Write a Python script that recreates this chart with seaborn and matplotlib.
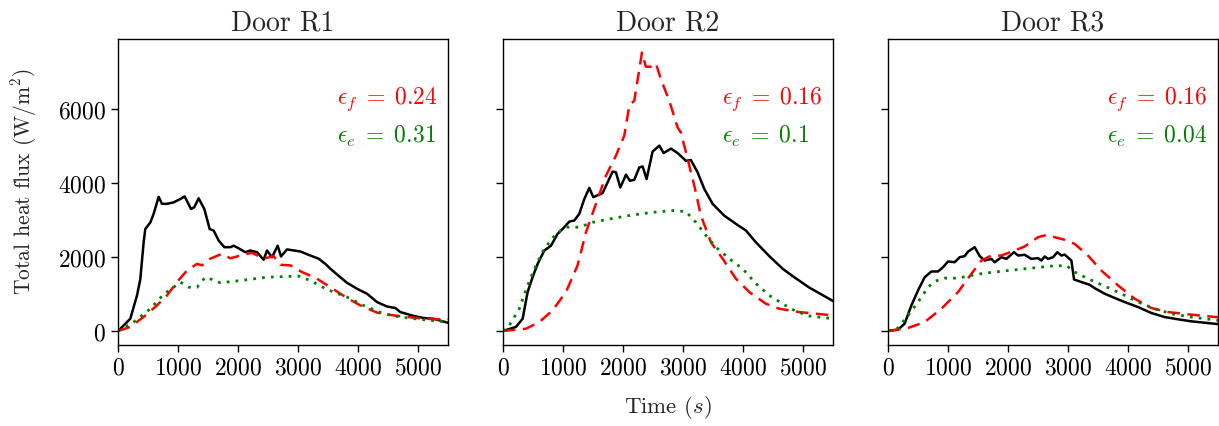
import numpy as np
import pandas as pd
import seaborn as sns
import matplotlib.pyplot as plt

# ---- data ----
titles = ['Door R1', 'Door R2', 'Door R3']
eps_f = ['0.24', '0.16', '0.16']
eps_e = ['0.31', '0.1', '0.04']

# Door R1
r1_black_t = [0, 95, 205, 317, 372, 428, 455, 540, 594, 678, 733, 817, 928, 1039, 1111, 1217, 1272,
              1344, 1439, 1528, 1594, 1678, 1772, 1872, 1928, 2011, 2122, 2205, 2317, 2428, 2483,
              2567, 2661, 2717, 2817, 3039, 3206, 3344, 3456, 3539, 3650, 3817, 3983, 4150, 4317,
              4483, 4622, 4706, 4928, 5094, 5261, 5500]
r1_black_q = [0, 150, 330, 960, 1400, 2400, 2750, 2930, 3160, 3620, 3430, 3430, 3470, 3560, 3630,
              3290, 3340, 3580, 3290, 2750, 2710, 2440, 2260, 2260, 2300, 2230, 2125, 2170, 2125,
              1920, 2170, 1990, 2300, 2010, 2200, 2145, 2035, 1950, 1810, 1680, 1525, 1300, 1140,
              1005, 780, 660, 620, 510, 405, 350, 330, 220]
r1_red_t = [0, 205, 428, 650, 817, 983, 1150, 1317, 1400, 1539, 1733, 1872, 2039, 2233, 2428, 2594,
            2706, 2872, 3067, 3317, 3539, 3817, 4039, 4317, 4594, 4983, 5261, 5500]
r1_red_q = [0, 110, 380, 690, 960, 1320, 1630, 1810, 1770, 1950, 2080, 1960, 2035, 2110, 1950, 2020,
            1785, 1770, 1590, 1410, 1180, 890, 690, 495, 420, 350, 315, 315]
r1_green_t = [0, 261, 540, 761, 928, 1039, 1178, 1317, 1456, 1567, 1706, 2039, 2483, 2817, 3011,
              3206, 3483, 3817, 4094, 4428, 4706, 5039, 5500]
r1_green_q = [0, 240, 600, 990, 1180, 1320, 1180, 1180, 1450, 1390, 1300, 1360, 1450, 1470, 1480,
              1360, 1120, 915, 690, 465, 375, 315, 240]

# Door R2
r2_black_t = [0, 217, 328, 411, 494, 578, 689, 800, 911, 1022, 1106, 1189, 1272, 1356, 1439, 1506,
              1661, 1744, 1828, 1883, 1956, 2050, 2117, 2189, 2272, 2328, 2394, 2494, 2606, 2678,
              2800, 2911, 3050, 3133, 3244, 3356, 3494, 3689, 3883, 4050, 4217, 4439, 4661, 4828,
              5106, 5500]
r2_black_q = [0, 110, 330, 1050, 1450, 1810, 2170, 2300, 2620, 2800, 2950, 2980, 3160, 3560, 3860,
              3610, 3720, 4010, 4300, 4280, 3870, 4215, 4050, 4080, 4410, 4440, 4100, 4840, 5000,
              4800, 4920, 4800, 4590, 4610, 4280, 3830, 3430, 3110, 2890, 2710, 2390, 2020, 1680,
              1480, 1170, 810]
r2_red_t = [0, 383, 606, 828, 1050, 1244, 1383, 1550, 1717, 1883, 2022, 2106, 2189, 2317, 2383,
            2467, 2550, 2633, 2772, 2911, 2967, 3078, 3189, 3300, 3467, 3661, 3883, 4106, 4383,
            4606, 4939, 5500]
r2_red_q = [0, 60, 240, 556, 1050, 1770, 2660, 3430, 4190, 4730, 5265, 6090, 6210, 7510, 7130, 7130,
            7220, 6790, 6210, 5490, 5350, 4640, 3920, 3110, 2390, 1950, 1410, 1050, 735, 600, 510,
            420]
r2_green_t = [0, 106, 272, 411, 550, 689, 883, 1050, 1272, 1494, 1772, 2161, 2494, 2828, 3050, 3217,
              3383, 3550, 3772, 3994, 4217, 4439, 4661, 4883, 5106, 5500]
r2_green_q = [0, 150, 600, 1230, 1770, 2215, 2620, 2800, 2800, 2930, 3020, 3130, 3200, 3250, 3220,
              2930, 2575, 2260, 1950, 1680, 1275, 960, 735, 530, 405, 330]

# Door R3
r3_black_t = [0, 167, 278, 389, 500, 611, 722, 833, 917, 1000, 1111, 1194, 1278, 1333, 1444, 1528,
              1611, 1722, 1778, 1889, 1972, 2100, 2167, 2278, 2389, 2500, 2556, 2611, 2667, 2750,
              2822, 2889, 2944, 3056, 3100, 3222, 3361, 3444, 3611, 3778, 3944, 4167, 4389, 4611,
              4833, 5056, 5500]
r3_black_q = [0, 36, 200, 690, 1095, 1450, 1605, 1605, 1720, 1875, 1855, 1990, 2020, 2140, 2260,
              2020, 1900, 1945, 1855, 1990, 1945, 2125, 2035, 2055, 1945, 1965, 1900, 2010, 1945,
              1990, 2125, 2035, 2060, 1900, 1390, 1320, 1245, 1155, 1005, 890, 780, 645, 485, 375,
              315, 260, 185]
r3_red_t = [0, 333, 611, 889, 1167, 1389, 1556, 1722, 1889, 2111, 2278, 2500, 2639, 2778, 2944,
            3111, 3333, 3556, 3833, 4111, 4389, 4667, 5056, 5500]
r3_red_q = [0, 80, 240, 600, 1050, 1540, 1900, 2035, 2035, 2170, 2280, 2530, 2590, 2530, 2460, 2350,
            2035, 1630, 1230, 870, 620, 510, 440, 370]
r3_green_t = [0, 167, 333, 500, 667, 778, 944, 1167, 1389, 1611, 2000, 2389, 2722, 2972, 3111, 3333,
              3611, 3889, 4167, 4444, 4722, 5056, 5500]
r3_green_q = [0, 80, 420, 780, 1180, 1340, 1425, 1425, 1500, 1560, 1630, 1695, 1750, 1765, 1590,
              1410, 1210, 1005, 780, 600, 465, 375, 285]

panels = [
    [(r1_black_t, r1_black_q), (r1_red_t, r1_red_q), (r1_green_t, r1_green_q)],
    [(r2_black_t, r2_black_q), (r2_red_t, r2_red_q), (r2_green_t, r2_green_q)],
    [(r3_black_t, r3_black_q), (r3_red_t, r3_red_q), (r3_green_t, r3_green_q)],
]
styles = [
    dict(color='black', linestyle='-', linewidth=1.8),
    dict(color='red', linestyle=(0, (5, 3)), linewidth=1.8),
    dict(color='green', linestyle=(0, (1, 2.2)), linewidth=2.0),
]

sns.set_style('ticks')
plt.rcParams['font.family'] = ['cmr10', 'DejaVu Serif']
plt.rcParams['mathtext.fontset'] = 'cm'
plt.rcParams['axes.formatter.use_mathtext'] = True
plt.rcParams['axes.edgecolor'] = 'black'
plt.rcParams['xtick.color'] = 'black'
plt.rcParams['ytick.color'] = 'black'

fig, axes = plt.subplots(1, 3, figsize=(12.19, 4.27), dpi=100, sharey=True)
lefts = [0.0968, 0.4126, 0.7285]
for i, ax in enumerate(axes):
    ax.set_position([lefts[i], 0.19, 0.2707, 0.7166])
    for (t, q), st in zip(panels[i], styles):
        df = pd.DataFrame({'t': t, 'q': q})
        sns.lineplot(data=df, x='t', y='q', ax=ax, **st)
    ax.set_xlim(0, 5500)
    ax.set_xticks([0, 1000, 2000, 3000, 4000, 5000])
    ax.set_yticks([0, 2000, 4000, 6000])
    ax.set_title(titles[i], fontsize=20, pad=7)
    ax.set_xlabel('')
    ax.set_ylabel('')
    ax.tick_params(labelsize=17, width=1, length=5)
    for sp in ax.spines.values():
        sp.set_linewidth(1.0)
    ax.text(0.665, 0.805, r'$\epsilon_f\;=\;%s$' % eps_f[i], color='red', fontsize=17,
            transform=ax.transAxes, ha='left', va='center')
    ax.text(0.665, 0.683, r'$\epsilon_e\;=\;%s$' % eps_e[i], color='green', fontsize=17,
            transform=ax.transAxes, ha='left', va='center')

axes[0].set_ylim(-375, 7880)
axes[0].set_ylabel(r'Total heat flux (W/m$^2$)', fontsize=15.5)
axes[0].yaxis.set_label_coords(-0.24, 0.535)
fig.text(0.548, 0.045, r'Time ($s$)', fontsize=16.5, ha='center', va='center')

fig.savefig('out.png', dpi=100)
